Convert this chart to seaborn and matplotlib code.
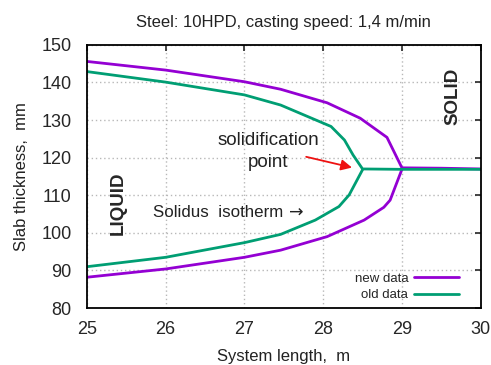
"""
Slab thickness vs system length: solidus isotherm, new vs old data.
"""
import pandas as pd
import matplotlib
matplotlib.use("Agg")
import matplotlib.pyplot as plt
import seaborn as sns

# === DATA ===
NEW_X = [25.0, 26.0, 27.0, 27.46, 28.05, 28.47, 28.81, 29.0, 29.5, 30.0]
NEW_UPPER = [145.6, 143.3, 140.2, 138.2, 134.6, 130.5, 125.4, 117.3, 117.2, 117.0]
NEW_LOW_X = [25.0, 26.0, 27.0, 27.46, 28.05, 28.52, 28.77, 28.85, 29.0]
NEW_LOWER = [88.2, 90.4, 93.5, 95.4, 99.0, 103.4, 106.8, 108.7, 116.9]

OLD_X = [25.0, 26.0, 27.0, 27.46, 28.1, 28.27, 28.38, 28.5, 29.0, 30.0]
OLD_UPPER = [142.9, 140.1, 136.7, 134.0, 128.3, 124.7, 120.7, 117.0, 116.9, 116.9]
OLD_LOW_X = [25.0, 26.0, 27.0, 27.46, 27.9, 28.2, 28.33, 28.5]
OLD_LOWER = [91.0, 93.5, 97.4, 99.6, 103.4, 107.0, 110.1, 116.8]

PURPLE = "#9400D3"
GREEN = "#009E73"

sns.set_style("white")
plt.rcParams["font.family"] = ["Liberation Sans", "DejaVu Sans"]

fig, ax = plt.subplots(figsize=(4.91, 3.65), dpi=100)
fig.subplots_adjust(left=0.177, right=0.979, top=0.877, bottom=0.156)

lw = 2.0
sns.lineplot(x=NEW_X, y=NEW_UPPER, sort=False, estimator=None, color=PURPLE, lw=lw, ax=ax, label="new data")
sns.lineplot(x=NEW_LOW_X, y=NEW_LOWER, sort=False, estimator=None, color=PURPLE, lw=lw, ax=ax)
sns.lineplot(x=OLD_X, y=OLD_UPPER, sort=False, estimator=None, color=GREEN, lw=lw, ax=ax, label="old data")
sns.lineplot(x=OLD_LOW_X, y=OLD_LOWER, sort=False, estimator=None, color=GREEN, lw=lw, ax=ax)

ax.set_xlim(25, 30)
ax.set_ylim(80, 150)
ax.set_xticks(range(25, 31))
ax.set_yticks(range(80, 151, 10))
ax.grid(True, color="#b8b8b8", linestyle=(0, (1, 2)), linewidth=1.0)
ax.tick_params(direction="in", top=True, right=True, length=4, width=1.2, labelsize=13)
ax.tick_params(axis="y", pad=11)
ax.tick_params(axis="x", pad=9)
for s in ax.spines.values():
    s.set_linewidth(1.3)
    s.set_color("black")

ax.set_xlabel("System length,  m", fontsize=12, labelpad=8, color="#222222")
ax.set_ylabel("Slab thickness,  mm", fontsize=12, labelpad=9, color="#222222")
ax.set_title("Steel: 10HPD, casting speed: 1,4 m/min", fontsize=12, pad=13, color="#222222")

ax.text(25.4, 108, "LIQUID", rotation=90, fontsize=13.5, fontweight="bold", ha="center", va="center")
ax.text(29.65, 136.3, "SOLID", rotation=90, fontsize=13.5, fontweight="bold", ha="center", va="center")
ax.text(27.3, 121.6, "solidification\npoint", fontsize=13.5, ha="center", va="center", color="#222222",
        linespacing=1.4)
ax.text(25.84, 105.5, "Solidus  isotherm", fontsize=12.2, ha="left", va="center", color="#222222")
ax.text(27.57, 105.5, "\u2192", fontsize=12.5, ha="left", va="center", color="#222222", family="DejaVu Sans")
ax.annotate("", xy=(28.4, 117.2), xytext=(27.75, 120.4),
            arrowprops=dict(arrowstyle="-|>", color="#ee1111", lw=1.3, mutation_scale=16))

leg = ax.legend(loc="lower right", frameon=False, markerfirst=False, fontsize=9.5,
                handlelength=3.4, handletextpad=0.45, borderaxespad=0.5, labelspacing=0.35,
                bbox_to_anchor=(0.975, -0.02))

plt.savefig("out.png", dpi=100)
plt.close()
